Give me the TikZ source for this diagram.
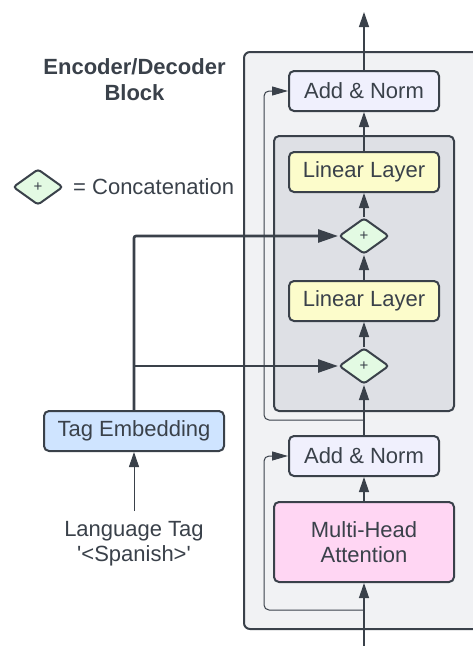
\documentclass[tikz,border=0pt]{standalone}
\usepackage{fontspec}
\setmainfont{Liberation Sans}
\usetikzlibrary{arrows.meta,shapes.geometric}
\definecolor{ink}{HTML}{3A414A}
\definecolor{outerfill}{HTML}{F1F2F4}
\definecolor{innerfill}{HTML}{DEE0E5}
\definecolor{anfill}{HTML}{F0F0FD}
\definecolor{llfill}{HTML}{FCFCCB}
\definecolor{dfill}{HTML}{E3FAE3}
\definecolor{tefill}{HTML}{CFE4FF}
\definecolor{mhafill}{HTML}{FFD6F3}
\begin{document}
\begin{tikzpicture}[x=1pt,y=-1pt,
  every node/.style={inner sep=0pt, text=ink},
  lbl/.style={font=\fontsize{22}{25}\selectfont},
  box/.style={draw=ink, line width=2pt, rounded corners=5pt, lbl},
  anbox/.style={box, fill=anfill, minimum width=150pt, minimum height=40pt},
  llbox/.style={box, fill=llfill, minimum width=150pt, minimum height=40pt},
  concat/.style={diamond, draw=ink, line width=2pt, rounded corners=3pt, fill=dfill,
    minimum width=50pt, minimum height=36pt, font=\fontsize{15}{16}\selectfont},
  flow/.style={draw=ink, line width=1.3pt, -{Triangle[length=15pt,width=10pt]}},
  skip/.style={draw=ink, line width=1pt, rounded corners=5pt, -{Triangle[length=16pt,width=9pt]}},
  tagline/.style={draw=ink, line width=2.6pt, rounded corners=2pt, -{Triangle[length=20pt,width=13pt]}}
]
\useasboundingbox (0,0) rectangle (473,646);
\clip (0,0) rectangle (473,646);
\fill[white] (0,0) rectangle (473,646);

% containers
\node[draw=ink, line width=2pt, rounded corners=6pt, fill=outerfill,
  minimum width=246pt, minimum height=577pt] (blk) at (367,340.5) {};
\node[draw=ink, line width=2pt, rounded corners=5pt, fill=innerfill,
  minimum width=180pt, minimum height=275pt] (inner) at (364,273.5) {};

% main column
\node[anbox] (an1) at (364,91) {Add \& Norm};
\node[llbox] (ll1) at (364,172) {Linear Layer};
\node[concat] (d1) at (364,236) {+};
\node[llbox] (ll2) at (364,301) {Linear Layer};
\node[concat] (d2) at (364,366) {+};
\node[anbox] (an2) at (364,456) {Add \& Norm};
\node[box, fill=mhafill, minimum width=180pt, minimum height=80pt, align=center] (mha) at (364,542) {Multi-Head\\Attention};

% left side
\node[font=\fontsize{22}{26}\selectfont\bfseries, align=center] (title) at (134.5,80) {Encoder/Decoder\\Block};
\node[concat] (legd) at (38,187) {+};
\node[lbl, anchor=west] (legt) at (73,187) {= Concatenation};
\node[box, fill=tefill, minimum width=180pt, minimum height=40pt] (te) at (134,431) {Tag Embedding};
\node[lbl, align=center] (lang) at (134,544) {Language Tag\\\textquotesingle<Spanish>\textquotesingle};

% coordinates
\coordinate (in) at (364,646);
\coordinate (out) at (364,12);
\coordinate (s1) at (364,610);
\coordinate (k1) at (264,610);
\coordinate (s2) at (364,420);
\coordinate (k2) at (264,420);
\coordinate (lt) at (134,511);

% flow
\draw[flow] (in) -- (mha.south);
\draw[flow] (mha.north) -- (an2.south);
\draw[flow] (an2.north) -- (d2.south);
\draw[flow] (d2.north) -- (ll2.south);
\draw[flow] (ll2.north) -- (d1.south);
\draw[flow] (d1.north) -- (ll1.south);
\draw[flow] (ll1.north) -- (an1.south);
\draw[flow] (an1.north) -- (out);

% residuals
\draw[skip] (s1) -- (k1) |- (an2.west);
\draw[skip] (s2) -- (k2) |- (an1.west);

% tag
\draw[flow, line width=1pt] (lt) -- (te.south);
\draw[tagline] (te.north) |- (d1.west);
\draw[tagline] (te.north |- d2.west) -- (d2.west);
\end{tikzpicture}
\end{document}
